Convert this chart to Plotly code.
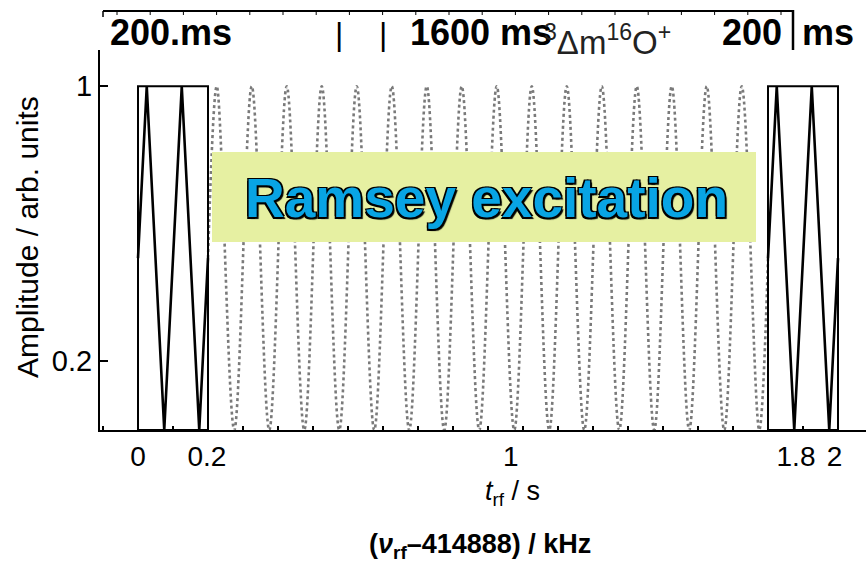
import plotly.graph_objects as go

# ---------------- data ----------------
pulse_windows = [(0.0, 0.2), (1.8, 2.0)]          # s
pulse_top = 1.0

pulse1_t = [0.0, 0.025, 0.075, 0.125, 0.175, 0.2]
pulse1_amp = [0.5, 1.0, 0.0, 1.0, 0.0, 0.5]
pulse2_t = [1.8, 1.825, 1.875, 1.925, 1.975, 2.0]
pulse2_amp = [0.5, 1.0, 0.0, 1.0, 0.0, 0.5]

free_t = [0.2, 0.225, 0.275, 0.325, 0.375, 0.425, 0.475, 0.525, 0.575,
          0.625, 0.675, 0.725, 0.775, 0.825, 0.875, 0.925, 0.975, 1.025,
          1.075, 1.125, 1.175, 1.225, 1.275, 1.325, 1.375, 1.425, 1.475,
          1.525, 1.575, 1.625, 1.675, 1.725, 1.775, 1.8]
free_amp = [0.5, 1, 0, 1, 0, 1, 0, 1, 0, 1, 0, 1, 0, 1, 0, 1, 0, 1,
            0, 1, 0, 1, 0, 1, 0, 1, 0, 1, 0, 1, 0, 1, 0, 0.5]

x_tick_pos = [0.0, 0.197, 1.065, 1.88, 1.99]
x_tick_text = ["0", "0.2", "1", "1.8", "2"]
y_tick_vals = [0.2, 1.0]
y_tick_text = ["0.2", "1"]

FONT = "Arial, Liberation Sans, sans-serif"
W, H = 866, 569
ML, MR, MT, MB = 100, 0, 50, 139
PW, PH = W - ML - MR, H - MT - MB


def px(xp):
    return (xp - ML) / PW


def py(yp):
    return (H - MB - yp) / PH


fig = go.Figure()

# dotted free-evolution oscillation
fig.add_trace(go.Scatter(x=free_t, y=free_amp, mode="lines",
                         line=dict(color="#7a7a7a", width=2.6, dash="dot",
                                   shape="spline", smoothing=1.0),
                         hoverinfo="skip", showlegend=False))

# pulse windows (rectangles)
for (a, b) in pulse_windows:
    fig.add_trace(go.Scatter(x=[a, a, b, b, a], y=[0, pulse_top, pulse_top, 0, 0],
                             mode="lines", line=dict(color="black", width=2),
                             hoverinfo="skip", showlegend=False))

# oscillation during the pulses
for tt, aa in [(pulse1_t, pulse1_amp), (pulse2_t, pulse2_amp)]:
    fig.add_trace(go.Scatter(x=tt, y=aa, mode="lines",
                             line=dict(color="black", width=2.6),
                             hoverinfo="skip", showlegend=False))

shapes = []
# green label box
shapes.append(dict(type="rect", xref="paper", yref="paper",
                   x0=px(212), x1=px(756), y0=py(242), y1=py(152),
                   fillcolor="#e6f0a2", line=dict(width=0), layer="above"))
# top frame (part of another panel)
shapes.append(dict(type="line", xref="paper", yref="paper",
                   x0=px(103), x1=px(793), y0=py(11), y1=py(11),
                   line=dict(color="black", width=2)))
shapes.append(dict(type="line", xref="paper", yref="paper",
                   x0=px(793), x1=px(793), y0=py(10), y1=py(50),
                   line=dict(color="black", width=2.5)))
shapes.append(dict(type="line", xref="paper", yref="paper",
                   x0=px(103), x1=px(103), y0=py(11), y1=py(17),
                   line=dict(color="black", width=1.5)))
for k in range(21):
    xx = 117 + 33.2 * k
    if xx < 790:
        shapes.append(dict(type="line", xref="paper", yref="paper",
                           x0=px(xx), x1=px(xx), y0=py(11), y1=py(15),
                           line=dict(color="black", width=1)))

annotations = []
annotations.append(dict(text="<b>Ramsey excitation</b>", xref="paper", yref="paper",
                        x=px(486), y=py(198), showarrow=False, xanchor="center", yanchor="middle",
                        font=dict(family=FONT, size=55, color="#08a4e4",
                                  shadow="-1.5px -1.5px 0 #000, 1.5px -1.5px 0 #000, -1.5px 1.5px 0 #000, 2px 2px 1px #000")))
top_bold = [("200.ms", 108), ("1600 ms", 408), ("200", 720), ("ms", 800)]
for txt, xl in top_bold:
    annotations.append(dict(text="<b>%s</b>" % txt, xref="paper", yref="paper",
                            x=px(xl), y=py(33), showarrow=False, xanchor="left", yanchor="middle",
                            font=dict(family=FONT, size=36, color="black")))
annotations.append(dict(text="|    |", xref="paper", yref="paper",
                        x=px(333), y=py(34), showarrow=False, xanchor="left", yanchor="middle",
                        font=dict(family=FONT, size=32, color="black")))
annotations.append(dict(text="<sup>3</sup>Δm<sup>16</sup>O<sup>+</sup>", xref="paper", yref="paper",
                        x=px(542), y=py(40), showarrow=False, xanchor="left", yanchor="middle",
                        font=dict(family=FONT, size=33, color="#222222")))
annotations.append(dict(text="Amplitude / arb. units", xref="paper", yref="paper",
                        x=px(27), y=py(237), showarrow=False, textangle=-90,
                        xanchor="center", yanchor="middle",
                        font=dict(family=FONT, size=30, color="black")))
annotations.append(dict(text="<i>t</i><sub>rf</sub> / s", xref="paper", yref="paper",
                        x=px(512), y=py(493), showarrow=False, xanchor="center", yanchor="middle",
                        font=dict(family=FONT, size=27, color="black")))
annotations.append(dict(text="<b>(<i>ν</i><sub>rf</sub>–414888) / kHz</b>", xref="paper", yref="paper",
                        x=px(480), y=py(546), showarrow=False, xanchor="center", yanchor="middle",
                        font=dict(family=FONT, size=27, color="black")))

fig.update_layout(
    width=W, height=H,
    margin=dict(l=ML, r=MR, t=MT, b=MB),
    plot_bgcolor="white", paper_bgcolor="white",
    font=dict(family=FONT, color="black"),
    shapes=shapes, annotations=annotations,
    xaxis=dict(range=[-38 / 350, 728 / 350], showgrid=False, zeroline=False,
               showline=True, linecolor="black", linewidth=2,
               tickvals=x_tick_pos, ticktext=x_tick_text, ticks="", tickangle=0,
               tickfont=dict(family=FONT, size=28, color="black"),
               minor=dict(ticks="inside", dtick=0.1, tick0=0, ticklen=4,
                          tickcolor="black", tickwidth=1.5)),
    yaxis=dict(range=[0, 380 / 343.75], showgrid=False, zeroline=False,
               showline=True, linecolor="black", linewidth=2,
               tickvals=y_tick_vals, ticktext=y_tick_text,
               ticks="inside", ticklen=8, tickwidth=2, tickcolor="black",
               tickfont=dict(family=FONT, size=29, color="black")),
)

fig.write_html("out.html", config={"displayModeBar": False},
               post_script="document.body.style.margin='0';document.body.style.padding='0';")
